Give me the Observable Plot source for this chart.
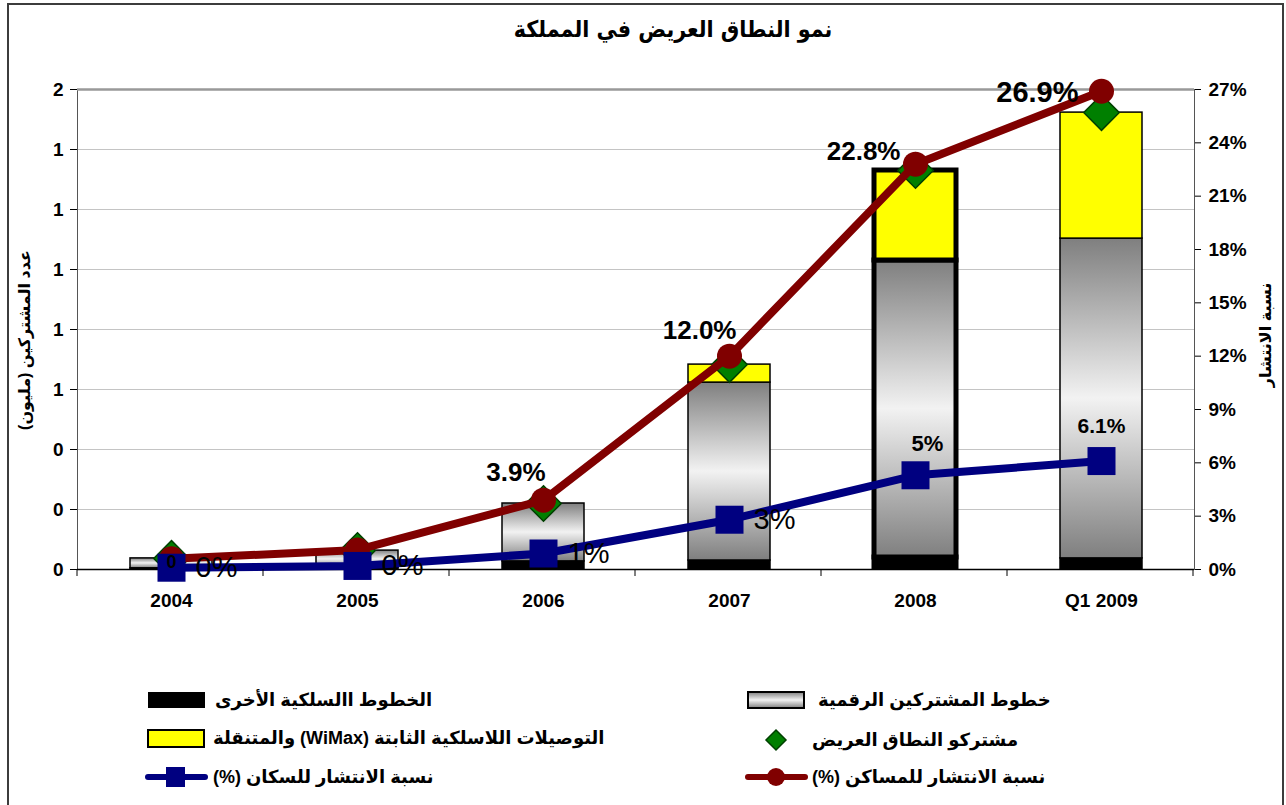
<!DOCTYPE html>
<html><head><meta charset="utf-8">
<script src="https://cdn.jsdelivr.net/npm/d3@7"></script>
<script src="https://cdn.jsdelivr.net/npm/@observablehq/plot@0.6"></script>
<style>
body{margin:0;background:#fff;font-family:"Liberation Sans","DejaVu Sans",sans-serif;}
#wrap{position:relative;width:1286px;height:805px;overflow:hidden;background:#fff}
#frame{position:absolute;left:7px;top:3px;width:1277px;height:830px;border:2px solid #3c3c3c;box-sizing:border-box}
#title{position:absolute;top:14px;left:30px;width:1286px;text-align:center;font-weight:bold;font-size:23px;line-height:30px;font-family:"DejaVu Sans Condensed","DejaVu Sans",sans-serif}
#chart{position:absolute;left:0;top:0}
.ytitle{position:absolute;font-weight:bold;font-size:16px;white-space:nowrap;transform:translate(-50%,-50%) rotate(-90deg);}
.item{position:absolute;display:flex;align-items:center;height:30px;transform:translateY(-50%);font-weight:bold;font-size:18px;white-space:nowrap}
.item svg{display:block}
.txt{unicode-bidi:isolate}
</style></head>
<body>
<svg width="0" height="0" style="position:absolute">
<defs>
<linearGradient id="dslGrad" x1="0" y1="0" x2="0" y2="1">
<stop offset="0" stop-color="#7f7f7f"/>
<stop offset="0.5" stop-color="#f2f2f2"/>
<stop offset="1" stop-color="#7f7f7f"/>
</linearGradient>
</defs>
</svg>
<div id="wrap">
<div id="frame"></div>
<div id="chart"></div>
<div id="title" dir="rtl">نمو النطاق العريض في المملكة</div>
<div class="ytitle" dir="rtl" style="left:24px;top:340px">عدد المشتركين (مليون)</div>
<div class="ytitle" dir="rtl" style="left:1265px;top:335px">نسبة الانتشار</div>
<div id="legend"></div>
</div>
<script>
// ---- data ----
const categories = ["2004", "2005", "2006", "2007", "2008", "Q1 2009"];
const otherWired = [0.004, 0.005, 0.027, 0.03, 0.04, 0.037];      // million
const dslLines   = [0.033, 0.058, 0.193, 0.593, 0.99, 1.066];     // million
const wimax      = [0, 0, 0, 0.06, 0.30, 0.42];                   // million
const broadband  = [0.037, 0.063, 0.22, 0.683, 1.33, 1.523];      // million
const householdPct  = [0.6, 1.1, 3.9, 12.0, 22.8, 26.9];
const populationPct = [0.1, 0.2, 0.9, 2.8, 5.3, 6.1];
const householdLabels  = ["", "", "3.9%", "12.0%", "22.8%", "26.9%"];
const populationLabels = ["0%", "0%", "1%", "3%", "5%", "6.1%"];
const broadbandLabels  = ["0", "", "", "", "", ""];
const leftTicks  = [0, 0.2, 0.4, 0.6, 0.8, 1.0, 1.2, 1.4, 1.6];
const rightTicks = [0, 3, 6, 9, 12, 15, 18, 21, 24, 27];
const legendLabels = {
  other: "الخطوط االسلكية الأخرى",
  dsl: "خطوط المشتركين الرقمية",
  wimax: "التوصيلات اللاسلكية الثابتة (WiMax) والمتنقلة",
  bb: "مشتركو النطاق العريض",
  pop: "نسبة الانتشار للسكان  (%)",
  hh: "نسبة الانتشار للمساكن  (%)"
};

// ---- build ----
const yMax = 1.6, pMax = 27;
const S = yMax / pMax; // percent -> left-axis units
const rows = categories.map((c, i) => ({
  cat: c, i, other: otherWired[i], dsl: dslLines[i], wimax: wimax[i], bb: broadband[i],
  hh: householdPct[i], pop: populationPct[i],
  hhLabel: householdLabels[i], popLabel: populationLabels[i], bbLabel: broadbandLabels[i]
}));
const sw = d => d.cat === "2008" ? 5 : 1.5;

// label layout (offsets in px, per category index)
const hhLabelStyle = {2: [2, -27, 26], 3: [7, -25, 26], 4: [-15, -12, 26], 5: [-23, 1, 29]};
const popLabelStyle = {4: [12, -31, 22], 5: [0, -35, 21]};

const hhLabelMarks = Object.entries(hhLabelStyle).map(([i, [dx, dy, fs]]) =>
  Plot.text(rows.filter(d => d.i === +i), {x: "cat", y: d => d.hh * S, text: "hhLabel",
    textAnchor: "end", dx, dy, fontSize: fs, fontWeight: "bold", fill: "#000"}));
const popLabelMarks = [
  Plot.text(rows.filter(d => d.i < 4), {x: "cat", y: d => d.pop * S, text: "popLabel",
    textAnchor: "start", dx: 24, dy: 0, fontSize: 29, fontWeight: "normal", fill: "#000"}),
  ...Object.entries(popLabelStyle).map(([i, [dx, dy, fs]]) =>
    Plot.text(rows.filter(d => d.i === +i), {x: "cat", y: d => d.pop * S, text: "popLabel",
      textAnchor: "middle", dx, dy, fontSize: fs, fontWeight: "bold", fill: "#000"}))
];

const chart = Plot.plot({
  width: 1286,
  height: 640,
  marginTop: 89,
  marginBottom: 71,
  marginLeft: 77,
  marginRight: 92,
  style: {fontFamily: '"Liberation Sans","DejaVu Sans",sans-serif', fontWeight: "bold", fontSize: "18px", color: "#000", background: "transparent", overflow: "visible"},
  x: {domain: categories, paddingInner: 0.56, paddingOuter: 0.28, label: null},
  y: {domain: [0, yMax], label: null},
  marks: [
    Plot.ruleY(leftTicks.filter(t => t > 0 && t < yMax), {stroke: "#c4c4c4", strokeWidth: 1}),
    Plot.frame({stroke: "#555", strokeWidth: 1}),
    Plot.ruleY([yMax], {stroke: "#999", strokeWidth: 2.5}),
    Plot.barY(rows, {x: "cat", y1: 0, y2: "other", fill: "#000", stroke: "#000", strokeWidth: sw, clip: true}),
    Plot.barY(rows, {x: "cat", y1: "other", y2: d => d.other + d.dsl, fill: "url(#dslGrad)", stroke: "#000", strokeWidth: sw}),
    Plot.barY(rows.filter(d => d.wimax > 0), {x: "cat", y1: d => d.other + d.dsl, y2: d => d.other + d.dsl + d.wimax, fill: "#ffff00", stroke: "#000", strokeWidth: sw}),
    Plot.ruleY([0], {stroke: "#000", strokeWidth: 1.5}),
    Plot.dot(rows, {x: "cat", y: "bb", symbol: "diamond2", r: 16, fill: "#007f00", stroke: "#004000", strokeWidth: 1.5}),
    Plot.line(rows, {x: "cat", y: d => d.hh * S, stroke: "#800000", strokeWidth: 8}),
    Plot.dot(rows, {x: "cat", y: d => d.hh * S, r: 12.5, fill: "#800000"}),
    Plot.line(rows, {x: "cat", y: d => d.pop * S, stroke: "#000080", strokeWidth: 8}),
    Plot.dot(rows, {x: "cat", y: d => d.pop * S, symbol: "square", r: 15.8, fill: "#000080"}),
    Plot.text(rows, {x: "cat", y: "bb", text: "bbLabel", dy: 4, fontSize: 18, fontWeight: "bold", fill: "#000"}),
    ...hhLabelMarks,
    ...popLabelMarks,
    Plot.axisX({tickSize: 0, tickPadding: 24, fontSize: 19, fontWeight: "bold"}),
    Plot.axisY(leftTicks, {anchor: "left", tickFormat: d => String(Math.round(d)), tickSize: 7, tickPadding: 7, fontSize: 19, fontWeight: "bold"}),
    Plot.axisY(rightTicks.map(p => p * S), {anchor: "right", tickFormat: d => Math.round(d / S) + "%", tickSize: 6, tickPadding: 8, fontSize: 19, fontWeight: "bold"})
  ]
});
document.getElementById("chart").appendChild(chart);

// x-axis ticks at band boundaries, from the library's band scale
const xs = chart.scale("x");
const yBase = chart.scale("y").apply(0);
const g = d3.select(chart).append("g").attr("stroke", "#000").attr("stroke-width", 1);
for (let i = 0; i <= categories.length; i++) {
  const bx = xs.range[0] + i * xs.step;
  g.append("line").attr("x1", bx).attr("x2", bx).attr("y1", yBase).attr("y2", yBase + 7);
}

// ---- legend ----
const leg = document.getElementById("legend");
const swatches = {
  other: `<svg width="60" height="20"><rect x="1" y="2" width="57" height="16" fill="#000"/></svg>`,
  dsl: `<svg width="60" height="20"><rect x="1" y="2" width="56" height="16" fill="url(#dslGrad)" stroke="#000" stroke-width="2"/></svg>`,
  wimax: `<svg width="60" height="20"><rect x="1" y="2" width="56" height="17" fill="#ffff00" stroke="#000" stroke-width="2"/></svg>`,
  bb: `<svg width="60" height="24"><path d="M29,2 L39,12 L29,22 L19,12 Z" fill="#007f00" stroke="#004000" stroke-width="1.5"/></svg>`,
  pop: `<svg width="64" height="24"><line x1="3" y1="12" x2="60" y2="12" stroke="#000080" stroke-width="6" stroke-linecap="round"/><rect x="21" y="2" width="19" height="20" fill="#000080"/></svg>`,
  hh: `<svg width="64" height="24"><line x1="3" y1="12" x2="60" y2="12" stroke="#800000" stroke-width="6" stroke-linecap="round"/><circle cx="31" cy="12" r="9" fill="#800000"/></svg>`
};
const legendItems = [
  ["other", 147, 700, 215], ["dsl", 747, 700, 818],
  ["wimax", 147, 738, 213], ["bb", 747, 740, 812],
  ["pop", 145, 777, 213], ["hh", 745, 777, 812]
];
for (const [k, sx, cy, tx] of legendItems) {
  const sdiv = document.createElement("div");
  sdiv.className = "item"; sdiv.style.left = sx + "px"; sdiv.style.top = cy + "px";
  sdiv.innerHTML = swatches[k];
  leg.appendChild(sdiv);
  const tdiv = document.createElement("div");
  tdiv.className = "item"; tdiv.style.left = tx + "px"; tdiv.style.top = cy + "px";
  tdiv.innerHTML = `<span class="txt" dir="rtl">${legendLabels[k]}</span>`;
  leg.appendChild(tdiv);
}
</script>
</body></html>
